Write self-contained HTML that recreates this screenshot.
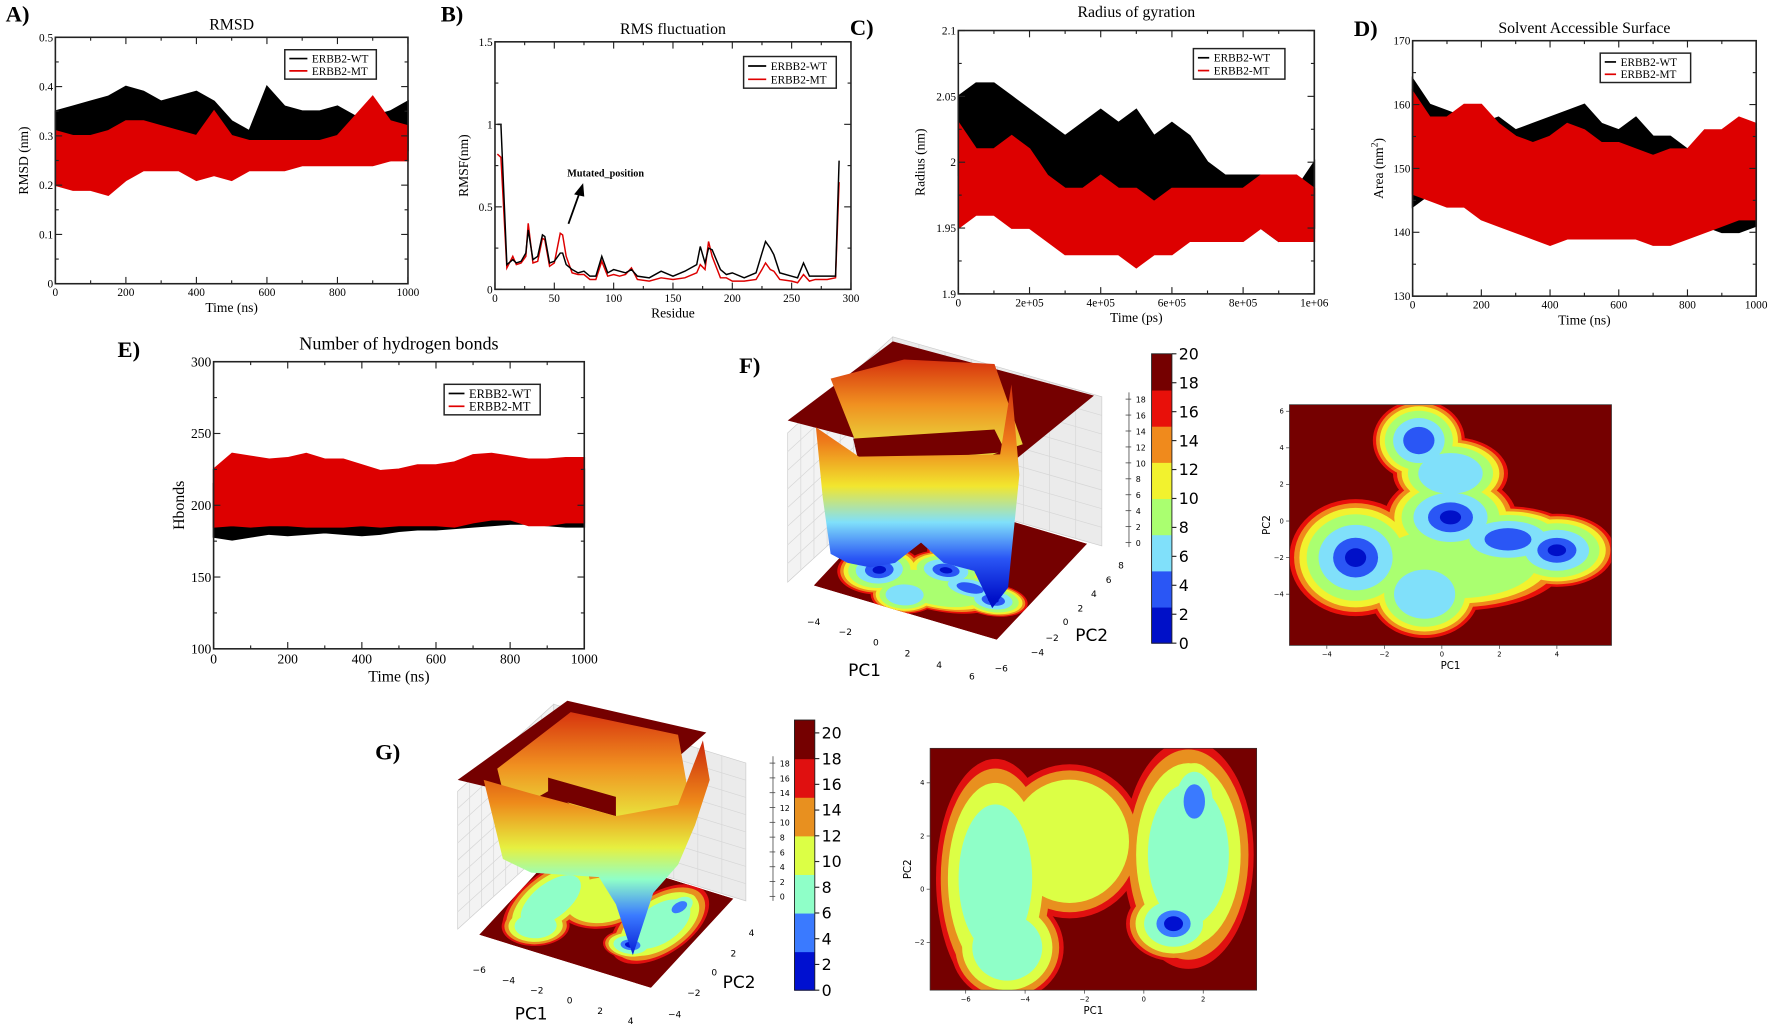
<!DOCTYPE html>
<html><head><meta charset="utf-8"><title>ERBB2 MD figure</title>
<style>html,body{margin:0;padding:0;background:#fff;}svg{display:block;}</style></head>
<body>
<svg id="fig" xmlns="http://www.w3.org/2000/svg" width="1772" height="1032" viewBox="0 0 1568 913" preserveAspectRatio="none">
<defs>
<linearGradient id="gradF" gradientUnits="userSpaceOnUse" x1="0" y1="330" x2="0" y2="530">
<stop offset="0" stop-color="#c81e0a"/><stop offset="0.3" stop-color="#ee7a1a"/><stop offset="0.5" stop-color="#f2e62e"/><stop offset="0.66" stop-color="#80e0fa"/><stop offset="0.82" stop-color="#2a56f5"/><stop offset="1" stop-color="#0010c8"/></linearGradient>
<linearGradient id="gradFw" gradientUnits="userSpaceOnUse" x1="0" y1="315" x2="0" y2="400">
<stop offset="0" stop-color="#d42a0c"/><stop offset="0.5" stop-color="#f09020"/><stop offset="1" stop-color="#e8e040"/></linearGradient>
<linearGradient id="gradG" gradientUnits="userSpaceOnUse" x1="0" y1="650" x2="0" y2="850">
<stop offset="0" stop-color="#c81e0a"/><stop offset="0.3" stop-color="#ee8a1a"/><stop offset="0.5" stop-color="#e6f040"/><stop offset="0.64" stop-color="#8fffc8"/><stop offset="0.8" stop-color="#3a7aff"/><stop offset="1" stop-color="#0010d0"/></linearGradient>
<linearGradient id="gradGw" gradientUnits="userSpaceOnUse" x1="0" y1="625" x2="0" y2="730">
<stop offset="0" stop-color="#d42a0c"/><stop offset="0.5" stop-color="#f09020"/><stop offset="1" stop-color="#e8f040"/></linearGradient>
<clipPath id="clipF2"><rect x="1141" y="358" width="285" height="213"/></clipPath>
<clipPath id="clipG2"><rect x="823" y="662" width="289" height="214"/></clipPath>
<clipPath id="clipFfloor"><polygon points="720,518 882,566 962,481 800,432"/></clipPath>
<clipPath id="clipGfloor"><polygon points="424,827 576,874 649,795 497,748"/></clipPath>
</defs>
<g id="layer"></g>
</svg>
<script>
// ---------- DATA ----------
const timeNs = [0,50,100,150,200,250,300,350,400,450,500,550,600,650,700,750,800,850,900,950,1000];
const timePs = [0,5e4,1e5,1.5e5,2e5,2.5e5,3e5,3.5e5,4e5,4.5e5,5e5,5.5e5,6e5,6.5e5,7e5,7.5e5,8e5,8.5e5,9e5,9.5e5,1e6];
// A RMSD
const rmsdWtHi = [0.35,0.36,0.37,0.38,0.40,0.39,0.37,0.38,0.39,0.37,0.33,0.31,0.40,0.36,0.35,0.35,0.36,0.34,0.34,0.35,0.37];
const rmsdWtLo = [0.22,0.27,0.29,0.29,0.32,0.32,0.29,0.28,0.29,0.28,0.26,0.26,0.29,0.29,0.27,0.27,0.27,0.27,0.26,0.25,0.27];
const rmsdMtHi = [0.31,0.30,0.30,0.31,0.33,0.33,0.32,0.31,0.30,0.35,0.30,0.29,0.29,0.29,0.29,0.29,0.30,0.34,0.38,0.33,0.32];
const rmsdMtLo = [0.20,0.19,0.19,0.18,0.21,0.23,0.23,0.23,0.21,0.22,0.21,0.23,0.23,0.23,0.24,0.24,0.24,0.24,0.24,0.25,0.25];
// B RMSF
const residues = [2,5,10,15,18,22,26,28,32,36,40,42,46,50,55,57,60,65,70,75,80,85,90,95,100,105,110,115,120,130,140,150,160,170,173,177,180,183,190,195,200,210,220,225,228,232,235,240,250,255,260,265,270,280,287,290];
const rmsfWt = [1.0,1.0,0.15,0.18,0.16,0.17,0.22,0.36,0.18,0.2,0.33,0.32,0.16,0.17,0.22,0.22,0.15,0.12,0.1,0.11,0.08,0.08,0.2,0.1,0.12,0.11,0.1,0.12,0.08,0.07,0.11,0.08,0.11,0.15,0.26,0.16,0.25,0.24,0.12,0.09,0.1,0.07,0.1,0.22,0.29,0.25,0.21,0.1,0.08,0.07,0.16,0.08,0.08,0.08,0.08,0.78];
const rmsfMt = [0.82,0.8,0.13,0.2,0.15,0.16,0.2,0.4,0.16,0.17,0.31,0.3,0.14,0.16,0.34,0.33,0.2,0.1,0.09,0.09,0.06,0.06,0.17,0.08,0.09,0.08,0.09,0.13,0.06,0.05,0.07,0.06,0.07,0.1,0.15,0.12,0.29,0.2,0.07,0.07,0.05,0.05,0.06,0.12,0.16,0.12,0.11,0.06,0.05,0.04,0.09,0.05,0.06,0.06,0.07,0.65];
// C Rg
const rgWtHi = [2.05,2.06,2.06,2.05,2.04,2.03,2.02,2.03,2.04,2.03,2.04,2.02,2.03,2.02,2.00,1.99,1.99,1.99,1.98,1.98,2.0];
const rgWtLo = [1.99,1.99,1.99,1.98,1.98,1.97,1.97,1.97,1.97,1.97,1.97,1.97,1.97,1.98,1.96,1.96,1.96,1.95,1.94,1.95,1.95];
const rgMtHi = [2.03,2.01,2.01,2.02,2.01,1.99,1.98,1.98,1.99,1.98,1.98,1.97,1.98,1.98,1.98,1.98,1.98,1.99,1.99,1.99,1.98];
const rgMtLo = [1.95,1.96,1.96,1.95,1.95,1.94,1.93,1.93,1.93,1.93,1.92,1.93,1.93,1.94,1.94,1.94,1.94,1.95,1.94,1.94,1.94];
// D SASA
const sasaWtHi = [164,160,159,158,157,158,156,157,158,159,160,157,156,158,155,155,153,152,150,153,156];
const sasaWtLo = [144,146,145,145,143,142,143,141,140,142,142,142,142,141,140,141,140,141,140,140,141];
const sasaMtHi = [162,158,158,160,160,157,155,154,155,157,156,154,154,153,152,153,153,156,156,158,157];
const sasaMtLo = [146,145,144,144,142,141,140,139,138,139,139,139,139,139,138,138,139,140,141,142,142];
// E Hbonds
const hbWtHi = [215,215,215,215,215,215,215,215,215,215,215,215,218,218,220,222,222,225,225,225,225];
const hbWtLo = [178,176,178,180,179,180,181,180,179,180,182,183,183,184,185,186,187,187,186,185,185];
const hbMtHi = [225,236,234,232,233,236,232,232,228,224,225,228,228,230,235,236,234,232,232,233,233];
const hbMtLo = [185,186,185,186,186,185,185,185,186,185,186,186,186,185,188,190,190,186,186,188,188];
// F FEL basins (PC coords)
const fBasinX = [-3.0, 0.3, 4.0, 2.3, -0.8, -0.6, 0.3, 0.5];
const fBasinY = [-2.0, 0.2, -1.6, -1.0, 4.4, -4.0, 2.6, -2.3];
const fBasinRX = [2.3, 2.3, 2.0, 2.4, 1.6, 1.9, 2.0, 3.8];
const fBasinRY = [3.2, 2.4, 2.0, 1.8, 2.2, 2.4, 2.0, 2.6];
const fBasinDepth = [6, 6, 6, 5, 5, 4, 4, 3];
const fLevelScale = [1, 0.93, 0.85, 0.74, 0.56, 0.34, 0.16];
const fLevelColors = ['#e8100a','#f08a1c','#f2f22e','#aaff70','#80e0fa','#2a56f5','#0010c8'];
const fBarBounds = [0,2.5,5,7.5,10,12.5,15,17.5,20];
const fBarColors = ['#0010c8','#2a56f5','#80e0fa','#aaff70','#f2f22e','#f08a1c','#e8100a','#750000'];
// G FEL basins
const gBasinX = [-5.0, -2.5, 1.5, 1.0, 1.7, -4.6];
const gBasinY = [0.4, 1.8, 1.3, -1.3, 3.3, -2.2];
const gBasinRX = [2.0, 2.5, 2.2, 1.6, 1.0, 1.9];
const gBasinRY = [4.5, 2.9, 4.3, 1.4, 1.8, 2.0];
const gBasinDepth = [3, 2, 3, 5, 4, 3];
const gLevelScale = [1, 0.92, 0.8, 0.62, 0.36, 0.2];
const gLevelColors = ['#e01010','#e8901f','#dcff45','#8fffc8','#3a7aff','#0010d0'];
const gBarBounds = [0,3,6,9,12,15,18,21];
const gBarColors = ['#0010d0','#3a7aff','#8fffc8','#dcff45','#e8901f','#e01010','#750000'];

// ---------- HELPERS ----------
const NS = 'http://www.w3.org/2000/svg';
const root = document.getElementById('layer');
function mk(tag, name, attrs, parent, txt){
  const e = document.createElementNS(NS, tag);
  
  
  for (const k in attrs) e.setAttribute(k, attrs[k]);
  if (txt !== undefined) e.textContent = txt;
  (parent || root).appendChild(e);
  return e;
}
const SERIF = '"Liberation Serif", serif';
const SANS = '"DejaVu Sans", "Liberation Sans", sans-serif';

function panel(p){
  const g = mk('g', p.name, {});
  const sx = v => p.x0 + (v - p.xmin) / (p.xmax - p.xmin) * (p.x1 - p.x0);
  const sy = v => p.y1 - (v - p.ymin) / (p.ymax - p.ymin) * (p.y1 - p.y0);
  p.sx = sx; p.sy = sy; p.g = g;
  return p;
}
function frame(p){
  const g = p.g, sx = p.sx, sy = p.sy;
  mk('rect', 'plot-frame', {x:p.x0, y:p.y0, width:p.x1-p.x0, height:p.y1-p.y0, fill:'none', stroke:'#222', 'stroke-width':1.4}, g);
  for (let v = p.xmin; v <= p.xmax + 1e-9; v += p.xminor){
    const major = Math.abs(Math.round((v - p.xmin)/p.xstep) * p.xstep - (v - p.xmin)) < 1e-6;
    const L = major ? 6 : 3;
    mk('line', 'x-tick', {x1:sx(v), x2:sx(v), y1:p.y1, y2:p.y1-L, stroke:'#222'}, g);
    mk('line', 'x-tick-top', {x1:sx(v), x2:sx(v), y1:p.y0, y2:p.y0+L, stroke:'#222'}, g);
  }
  for (let v = p.ymin; v <= p.ymax + 1e-9; v += p.yminor){
    const major = Math.abs(Math.round((v - p.ymin)/p.ystep) * p.ystep - (v - p.ymin)) < 1e-6;
    const L = major ? 6 : 3;
    mk('line', 'y-tick', {x1:p.x0, x2:p.x0+L, y1:sy(v), y2:sy(v), stroke:'#222'}, g);
    mk('line', 'y-tick-right', {x1:p.x1, x2:p.x1-L, y1:sy(v), y2:sy(v), stroke:'#222'}, g);
  }
  p.xticks.forEach((v,i) => mk('text', 'x-tick-label', {x:sx(v), y:p.y1+p.fs+1, 'font-size':p.fs, 'font-family':SERIF, 'text-anchor':'middle'}, g, p.xlabels[i]));
  p.yticks.forEach((v,i) => mk('text', 'y-tick-label', {x:p.x0-2, y:sy(v)+p.fs*0.35, 'font-size':p.fs, 'font-family':SERIF, 'text-anchor':'end'}, g, p.ylabels[i]));
  mk('text', 'chart-title', {x:(p.x0+p.x1)/2, y:p.ty, 'font-size':p.tfs, 'font-family':SERIF, 'text-anchor':'middle'}, g, p.title);
  mk('text', 'x-axis-title', {x:(p.x0+p.x1)/2, y:p.y1+p.fs+p.afs+3, 'font-size':p.afs, 'font-family':SERIF, 'text-anchor':'middle'}, g, p.xtitle);
  const yt = mk('text', 'y-axis-title', {x:p.ylx, y:(p.y0+p.y1)/2, 'font-size':p.afs, 'font-family':SERIF, 'text-anchor':'middle', transform:`rotate(-90 ${p.ylx} ${(p.y0+p.y1)/2})`}, g, p.ytitle);
  if (p.ytitleSup){ mk('tspan', 'y-axis-superscript', {dy:-5, 'font-size':p.afs*0.7}, yt, p.ytitleSup); mk('tspan', 'y-axis-close', {dy:5}, yt, ')'); }
  mk('text', 'panel-letter', {x:p.lx, y:p.ly, 'font-size':20, 'font-weight':'bold', 'font-family':SERIF}, g, p.letter);
  const L = p.leg;
  mk('rect', 'legend-box', {x:L.x, y:L.y, width:L.w, height:L.h, fill:'#fff', stroke:'#222', 'stroke-width':1.3}, g);
  mk('line', 'legend-wt-swatch', {x1:L.x+4, x2:L.x+L.sw, y1:L.y+L.h*0.3, y2:L.y+L.h*0.3, stroke:'#000', 'stroke-width':1.5}, g);
  mk('line', 'legend-mt-swatch', {x1:L.x+4, x2:L.x+L.sw, y1:L.y+L.h*0.72, y2:L.y+L.h*0.72, stroke:'#e00000', 'stroke-width':1.5}, g);
  mk('text', 'legend-wt-label', {x:L.x+L.sw+4, y:L.y+L.h*0.3+L.fs*0.35, 'font-size':L.fs, 'font-family':SERIF}, g, 'ERBB2-WT');
  mk('text', 'legend-mt-label', {x:L.x+L.sw+4, y:L.y+L.h*0.72+L.fs*0.35, 'font-size':L.fs, 'font-family':SERIF}, g, 'ERBB2-MT');
}
function band(p, name, xs, hi, lo, color){
  const pts = xs.map((x,i)=>p.sx(x)+','+p.sy(hi[i])).concat(xs.map((x,i)=>p.sx(x)+','+p.sy(lo[i])).reverse());
  mk('polygon', name, {points:pts.join(' '), fill:color, stroke:color, 'stroke-width':1.5}, p.g);
}
function line(p, name, xs, ys, color){
  mk('polyline', name, {points:xs.map((x,i)=>p.sx(x)+','+p.sy(ys[i])).join(' '), fill:'none', stroke:color, 'stroke-width':1.3}, p.g);
}
function rng(a,b,s){const r=[];for(let v=a;v<=b+1e-9;v+=s)r.push(+v.toFixed(6));return r;}

// ---------- PANEL A ----------
const pA = panel({name:'rmsd-panel', x0:49, x1:361, y0:33, y1:251, xmin:0, xmax:1000, ymin:0, ymax:0.5,
  xstep:200, xminor:100, ystep:0.1, yminor:0.05, xticks:rng(0,1000,200), xlabels:['0','200','400','600','800','1000'],
  yticks:rng(0,0.5,0.1), ylabels:['0','0.1','0.2','0.3','0.4','0.5'], fs:10, tfs:14, afs:12, ty:26,
  title:'RMSD', xtitle:'Time (ns)', ytitle:'RMSD (nm)', ylx:25, letter:'A)', lx:5, ly:19,
  leg:{x:252,y:44,w:81,h:26,sw:20,fs:10}});
band(pA,'rmsd-wt-series',timeNs,rmsdWtHi,rmsdWtLo,'#000');
band(pA,'rmsd-mt-series',timeNs,rmsdMtHi,rmsdMtLo,'#dd0000');
frame(pA);

// ---------- PANEL B ----------
const pB = panel({name:'rmsf-panel', x0:438, x1:753, y0:37, y1:256, xmin:0, xmax:300, ymin:0, ymax:1.5,
  xstep:50, xminor:25, ystep:0.5, yminor:0.25, xticks:rng(0,300,50), xlabels:['0','50','100','150','200','250','300'],
  yticks:[0,0.5,1,1.5], ylabels:['0','0.5','1','1.5'], fs:10, tfs:14, afs:12, ty:30,
  title:'RMS fluctuation', xtitle:'Residue', ytitle:'RMSF(nm)', ylx:414, letter:'B)', lx:390, ly:19,
  leg:{x:658,y:50,w:82,h:28,sw:20,fs:10}});
line(pB,'rmsf-mt-series',residues,rmsfMt,'#dd0000');
line(pB,'rmsf-wt-series',residues,rmsfWt,'#000');
frame(pB);
mk('text','mutated-position-annotation',{x:502,y:156,'font-size':9,'font-weight':'bold','font-family':SERIF},pB.g,'Mutated_position');
mk('line','annotation-arrow-shaft',{x1:503,y1:198,x2:513,y2:170,stroke:'#000','stroke-width':1.6},pB.g);
mk('polygon','annotation-arrow-head',{points:'516,162 508,172 517,174',fill:'#000'},pB.g);

// ---------- PANEL C ----------
const pC = panel({name:'radius-of-gyration-panel', x0:848, x1:1163, y0:27, y1:260, xmin:0, xmax:1e6, ymin:1.9, ymax:2.1,
  xstep:2e5, xminor:1e5, ystep:0.05, yminor:0.025, xticks:rng(0,1e6,2e5), xlabels:['0','2e+05','4e+05','6e+05','8e+05','1e+06'],
  yticks:rng(1.9,2.1,0.05), ylabels:['1.9','1.95','2','2.05','2.1'], fs:10, tfs:14, afs:12, ty:15,
  title:'Radius of gyration', xtitle:'Time (ps)', ytitle:'Radius (nm)', ylx:818, letter:'C)', lx:752, ly:31,
  leg:{x:1056,y:43,w:81,h:27,sw:14,fs:10}});
band(pC,'rg-wt-series',timePs,rgWtHi,rgWtLo,'#000');
band(pC,'rg-mt-series',timePs,rgMtHi,rgMtLo,'#dd0000');
frame(pC);

// ---------- PANEL D ----------
const pD = panel({name:'sasa-panel', x0:1250, x1:1554, y0:36, y1:262, xmin:0, xmax:1000, ymin:130, ymax:170,
  xstep:200, xminor:100, ystep:10, yminor:5, xticks:rng(0,1000,200), xlabels:['0','200','400','600','800','1000'],
  yticks:rng(130,170,10), ylabels:['130','140','150','160','170'], fs:10, tfs:14, afs:12, ty:29,
  title:'Solvent Accessible Surface', xtitle:'Time (ns)', ytitle:'Area (nm', ytitleSup:'2', ylx:1224, letter:'D)', lx:1198, ly:32,
  leg:{x:1416,y:47,w:80,h:26,sw:14,fs:10}});
band(pD,'sasa-wt-series',timeNs,sasaWtHi,sasaWtLo,'#000');
band(pD,'sasa-mt-series',timeNs,sasaMtHi,sasaMtLo,'#dd0000');
frame(pD);

// ---------- PANEL E ----------
const pE = panel({name:'hbonds-panel', x0:189, x1:517, y0:320, y1:574, xmin:0, xmax:1000, ymin:100, ymax:300,
  xstep:200, xminor:100, ystep:50, yminor:25, xticks:rng(0,1000,200), xlabels:['0','200','400','600','800','1000'],
  yticks:rng(100,300,50), ylabels:['100','150','200','250','300'], fs:12, tfs:16, afs:14, ty:309,
  title:'Number of hydrogen bonds', xtitle:'Time (ns)', ytitle:'Hbonds', ylx:163, letter:'E)', lx:104, ly:316,
  leg:{x:393,y:340,w:85,h:27,sw:18,fs:11}});
band(pE,'hbonds-wt-series',timeNs,hbWtHi,hbWtLo,'#000');
band(pE,'hbonds-mt-series',timeNs,hbMtHi,hbMtLo,'#dd0000');
frame(pE);

// ---------- FEL helpers ----------
function basins(parent, bx, by, brx, bry, depth, scales, colors, toX, toY, kx, ky){
  scales.forEach((s, lvl) => {
    bx.forEach((cx, i) => {
      if (depth[i] < lvl) return;
      mk('ellipse', 'contour-level-' + lvl, {cx:toX(cx), cy:toY(by[i]), rx:brx[i]*s*kx, ry:bry[i]*s*ky, fill:colors[lvl]}, parent);
    });
  });
}
function colorbar(name, x, y0, y1, bounds, colors, labels, labelVals){
  const g = mk('g', name, {});
  const lo = bounds[0], hi = bounds[bounds.length-1];
  const sy = v => y1 - (v - lo)/(hi - lo)*(y1 - y0);
  colors.forEach((c,i) => mk('rect','colorbar-band',{x:x, y:sy(bounds[i+1]), width:18, height:sy(bounds[i])-sy(bounds[i+1])+0.5, fill:c}, g));
  mk('rect','colorbar-frame',{x:x,y:y0,width:18,height:y1-y0,fill:'none',stroke:'#222','stroke-width':0.8},g);
  labelVals.forEach((v,i) => {
    mk('line','colorbar-tick',{x1:x+18,x2:x+22,y1:sy(v),y2:sy(v),stroke:'#222'},g);
    mk('text','colorbar-tick-label',{x:x+24,y:sy(v)+5,'font-size':14,'font-family':SANS},g,labels[i]);
  });
}
function contour2d(name, box, pcx0, pcx1, pcy0, pcy1, data, xt, yt, clip){
  const g = mk('g', name, {});
  const sx = v => box.x0 + (v - pcx0)/(pcx1 - pcx0)*(box.x1-box.x0);
  const sy = v => box.y1 - (v - pcy0)/(pcy1 - pcy0)*(box.y1-box.y0);
  const kx = (box.x1-box.x0)/(pcx1-pcx0), ky = (box.y1-box.y0)/(pcy1-pcy0);
  const inner = mk('g','contour-area',{ 'clip-path':'url(#'+clip+')'}, g);
  mk('rect','contour-background',{x:box.x0,y:box.y0,width:box.x1-box.x0,height:box.y1-box.y0,fill:'#750000'},inner);
  basins(inner, data[0], data[1], data[2], data[3], data[4], data[5], data[6], sx, sy, kx, ky);
  mk('rect','contour-frame',{x:box.x0,y:box.y0,width:box.x1-box.x0,height:box.y1-box.y0,fill:'none',stroke:'#333','stroke-width':0.6},g);
  xt.forEach(v => { mk('line','x-tick',{x1:sx(v),x2:sx(v),y1:box.y1,y2:box.y1+3,stroke:'#333','stroke-width':0.6},g);
    mk('text','x-tick-label',{x:sx(v),y:box.y1+10,'font-size':6,'font-family':SANS,'text-anchor':'middle'},g,v<0?'\u2212'+(-v):String(v)); });
  yt.forEach(v => { mk('line','y-tick',{x1:box.x0,x2:box.x0-3,y1:sy(v),y2:sy(v),stroke:'#333','stroke-width':0.6},g);
    mk('text','y-tick-label',{x:box.x0-5,y:sy(v)+2,'font-size':6,'font-family':SANS,'text-anchor':'end'},g,v<0?'\u2212'+(-v):String(v)); });
  mk('text','x-axis-title',{x:(box.x0+box.x1)/2,y:box.y1+21,'font-size':9,'font-family':SANS,'text-anchor':'middle'},g,'PC1');
  const yx = box.x0-17, ym = (box.y0+box.y1)/2;
  mk('text','y-axis-title',{x:yx,y:ym,'font-size':9,'font-family':SANS,'text-anchor':'middle',transform:`rotate(-90 ${yx} ${ym})`},g,'PC2');
}
function walls(g, A, D, C, h){
  const up = p => [p[0], p[1]-h];
  const P = a => a.map(p=>p.join(',')).join(' ');
  mk('polygon','left-back-wall',{points:P([A,D,up(D),up(A)]),fill:'#f3f3f3',stroke:'#ccc','stroke-width':0.6},g);
  mk('polygon','right-back-wall',{points:P([D,C,up(C),up(D)]),fill:'#ebebeb',stroke:'#ccc','stroke-width':0.6},g);
  for (let i=1;i<8;i++){ const t=i/8;
    const a=[A[0]+(D[0]-A[0])*t, A[1]+(D[1]-A[1])*t]; mk('line','wall-grid',{x1:a[0],y1:a[1],x2:a[0],y2:a[1]-h,stroke:'#d6d6d6','stroke-width':0.6},g);
    const b=[D[0]+(C[0]-D[0])*t, D[1]+(C[1]-D[1])*t]; mk('line','wall-grid',{x1:b[0],y1:b[1],x2:b[0],y2:b[1]-h,stroke:'#d6d6d6','stroke-width':0.6},g);
    const z=h*t; mk('polyline','wall-grid',{points:`${A[0]},${A[1]-z} ${D[0]},${D[1]-z} ${C[0]},${C[1]-z}`,fill:'none',stroke:'#d6d6d6','stroke-width':0.6},g); }
}
function floorContours(g, clip, A, B, C, m1, r1, m2, r2, data){
  const a=(B[0]-A[0])/r1, b=(B[1]-A[1])/r1, c=(C[0]-B[0])/r2, d=(C[1]-B[1])/r2;
  const e=A[0]-a*m1-c*m2, f=A[1]-b*m1-d*m2;
  const cg = mk('g','floor-contours',{'clip-path':'url(#'+clip+')'},g);
  mk('polygon','floor',{points:[A,B,C,[A[0]+C[0]-B[0],A[1]+C[1]-B[1]]].map(p=>p.join(',')).join(' '),fill:'#750000'},cg);
  const tg = mk('g','floor-contour-shapes',{transform:`matrix(${a},${b},${c},${d},${e},${f})`},cg);
  basins(tg, data[0], data[1], data[2], data[3], data[4], data[5], data[6], v=>v, v=>v, 1, 1);
}
function axes3d(g, pc1, pc2, zx, z0, zstep, pc1lab, pc2lab){
  pc1.forEach(t => mk('text','pc1-tick-label',{x:t[0],y:t[1],'font-size':8,'font-family':SANS,'text-anchor':'middle'},g,t[2]));
  pc2.forEach(t => mk('text','pc2-tick-label',{x:t[0],y:t[1],'font-size':8,'font-family':SANS,'text-anchor':'middle'},g,t[2]));
  mk('line','z-axis',{x1:zx-6,y1:z0+4,x2:zx-6,y2:z0-9*zstep-6,stroke:'#444','stroke-width':0.7},g);
  for (let i=0;i<=9;i++){ const y=z0-i*zstep;
    mk('line','z-tick',{x1:zx-9,x2:zx-4,y1:y,y2:y,stroke:'#444','stroke-width':0.7},g);
    mk('text','z-tick-label',{x:zx,y:y+3,'font-size':7,'font-family':SANS},g,String(i*2)); }
  mk('text','pc1-axis-title',{x:pc1lab[0],y:pc1lab[1],'font-size':15,'font-family':SANS,'text-anchor':'middle'},g,'PC1');
  mk('text','pc2-axis-title',{x:pc2lab[0],y:pc2lab[1],'font-size':15,'font-family':SANS,'text-anchor':'middle'},g,'PC2');
}
const fData = [fBasinX,fBasinY,fBasinRX,fBasinRY,fBasinDepth,fLevelScale,fLevelColors];
const gData = [gBasinX,gBasinY,gBasinRX,gBasinRY,gBasinDepth,gLevelScale,gLevelColors];

// ---------- PANEL F ----------
const gF = mk('g','fel-wt-3d-surface',{});
mk('text','panel-letter',{x:654,y:330,'font-size':20,'font-weight':'bold','font-family':SERIF},gF,'F)');
walls(gF,[697,515],[790,430],[975,483],132);
floorContours(gF,'clipFfloor',[720,518],[882,566],[962,481],-5.5,11.5,-6,14,fData);
mk('polygon','surface-top-plateau',{points:'697,372 790,302 968,350 882,420',fill:'#750000'},gF);
mk('polygon','surface-well',{points:'735,335 800,318 880,322 905,393 870,405 760,398',fill:'url(#gradFw)'},gF);
mk('polygon','surface-front-plateau',{points:'755,388 880,380 890,400 760,410',fill:'#750000'},gF);
mk('polygon','surface-front-wall',{points:'722,378 760,404 885,402 895,340 902,420 892,520 878,538 862,505 835,498 815,480 792,498 770,502 750,498 735,490 728,440',fill:'url(#gradF)'},gF);
axes3d(gF,[[720,553,'\u22124'],[748,562,'\u22122'],[775,571,'0'],[803,581,'2'],[831,591,'4'],[860,601,'6']],
  [[886,594,'\u22126'],[918,580,'\u22124'],[931,567,'\u22122'],[943,553,'0'],[956,541,'2'],[968,528,'4'],[981,516,'6'],[992,503,'8']],
  1005,480,14.1,[765,598],[966,567]);
colorbar('fel-wt-colorbar',1019,313,569,fBarBounds,fBarColors,['0','2','4','6','8','10','12','14','16','18','20'],rng(0,20,2));
contour2d('fel-wt-contour',{x0:1141,x1:1426,y0:358,y1:571},-5.3,5.9,-6.8,6.36,fData,[-4,-2,0,2,4],[-4,-2,0,2,4,6],'clipF2');

// ---------- PANEL G ----------
const gG = mk('g','fel-mt-3d-surface',{});
mk('text','panel-letter',{x:332,y:672,'font-size':20,'font-weight':'bold','font-family':SERIF},gG,'G)');
walls(gG,[405,822],[490,745],[660,797],122);
floorContours(gG,'clipGfloor',[424,827],[576,874],[649,795],-7,11,-4.5,10,gData);
mk('polygon','surface-top-plateau',{points:'405,690 502,620 625,648 540,722',fill:'#750000'},gG);
mk('polygon','surface-well',{points:'440,680 505,630 600,650 612,718 545,735 485,700 450,720',fill:'url(#gradGw)'},gG);
mk('polygon','surface-front-plateau',{points:'485,688 545,705 545,722 485,705',fill:'#750000'},gG);
mk('polygon','surface-front-wall',{points:'428,690 470,702 545,722 600,712 622,655 628,690 615,730 600,765 578,790 560,845 545,800 530,776 470,772 445,760',fill:'url(#gradG)'},gG);
axes3d(gG,[[424,861,'\u22126'],[450,870,'\u22124'],[475,879,'\u22122'],[504,888,'0'],[531,897,'2'],[558,906,'4']],
  [[597,900,'\u22124'],[614,881,'\u22122'],[632,863,'0'],[649,846,'2'],[665,828,'4']],
  690,793,13.1,[470,902],[654,874]);
colorbar('fel-mt-colorbar',703,637,876,gBarBounds,gBarColors,['0','2','4','6','8','10','12','14','16','18','20'],rng(0,20,2));
contour2d('fel-mt-contour',{x0:823,x1:1112,y0:662,y1:876},-7.2,3.8,-3.8,5.3,gData,[-6,-4,-2,0,2],[-2,0,2,4],'clipG2');
</script>
</body></html>
